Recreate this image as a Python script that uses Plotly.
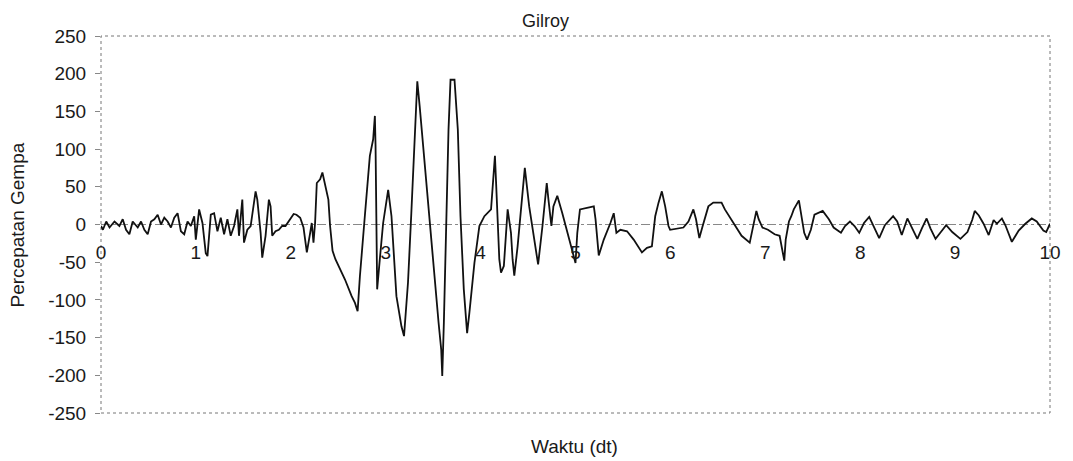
import plotly.graph_objects as go

# Time (s) and ground acceleration
waktu = [0.0, 0.02, 0.055, 0.09, 0.142, 0.194, 0.229, 0.264, 0.299, 0.334,
         0.387, 0.422, 0.457, 0.492, 0.527, 0.562, 0.597, 0.632, 0.667, 0.702,
         0.737, 0.772, 0.807, 0.842, 0.877, 0.912, 0.947, 0.982, 0.999, 1.034,
         1.069, 1.104, 1.122, 1.157, 1.192, 1.227, 1.262, 1.297, 1.332, 1.367,
         1.402, 1.437, 1.454, 1.472, 1.489, 1.507, 1.542, 1.577, 1.612, 1.629,
         1.647, 1.682, 1.699, 1.734, 1.769, 1.787, 1.804, 1.839, 1.874, 1.909,
         1.944, 1.976, 2.011, 2.03, 2.06, 2.099, 2.134, 2.169, 2.204, 2.221,
         2.239, 2.256, 2.274, 2.309, 2.333, 2.361, 2.396, 2.414, 2.44, 2.47,
         2.571, 2.641, 2.676, 2.704, 2.728, 2.78, 2.833, 2.868, 2.886, 2.893,
         2.91, 2.938, 2.973, 3.026, 3.061, 3.113, 3.166, 3.193, 3.235, 3.27,
         3.305, 3.333, 3.358, 3.41, 3.463, 3.515, 3.557, 3.585, 3.596, 3.613,
         3.637, 3.662, 3.683, 3.725, 3.76, 3.788, 3.823, 3.858, 3.882, 3.935,
         3.987, 4.04, 4.11, 4.151, 4.165, 4.197, 4.215, 4.245, 4.285, 4.32,
         4.337, 4.355, 4.39, 4.431, 4.466, 4.512, 4.564, 4.606, 4.652, 4.697,
         4.715, 4.746, 4.767, 4.808, 4.861, 4.914, 4.966, 5.0, 5.019, 5.047,
         5.193, 5.211, 5.245, 5.298, 5.368, 5.403, 5.431, 5.473, 5.543, 5.613,
         5.7, 5.753, 5.805, 5.84, 5.875, 5.91, 5.945, 5.98, 5.997, 6.137,
         6.19, 6.242, 6.27, 6.305, 6.34, 6.4, 6.452, 6.539, 6.574, 6.679,
         6.75, 6.836, 6.906, 6.93, 6.97, 7.028, 7.098, 7.151, 7.179, 7.2,
         7.215, 7.249, 7.274, 7.3, 7.354, 7.38, 7.41, 7.44, 7.48, 7.518,
         7.605, 7.67, 7.72, 7.797, 7.84, 7.892, 7.94, 7.99, 8.04, 8.095,
         8.15, 8.2, 8.26, 8.347, 8.39, 8.438, 8.497, 8.55, 8.602, 8.65,
         8.7, 8.74, 8.794, 8.85, 8.906, 8.97, 9.056, 9.13, 9.18, 9.207,
         9.25, 9.3, 9.354, 9.406, 9.44, 9.493, 9.53, 9.598, 9.67, 9.74,
         9.808, 9.86, 9.93, 9.96, 10.0]

percepatan = [-2, -7, 4, -4, 4, -2, 7, -7, -13, 4,
              -4, 4, -7, -13, 4, 7, 13, 0, 9, 4,
              -4, 9, 15, -9, -13, 4, -2, 11, -20, 20,
              2, -38, -42, 13, 15, -9, 9, -13, 7, -15,
              -2, 20, -15, 11, 33, -24, -7, -2, 29, 44,
              33, -11, -44, -15, 33, 24, -15, -9, -7, -2,
              -2, 4, 9, 14, 13, 9, -4, -37, -11, 2,
              -24, 2, 55, 60, 69, 53, 33, -2, -35, -46,
              -73, -95, -104, -115, -69, 11, 91, 113, 144, 104,
              -86, -46, 2, 46, 11, -95, -135, -148, -77, 15,
              126, 190, 157, 82, -2, -77, -130, -166, -201, -130,
              -7, 126, 192, 192, 126, 11, -86, -144, -117, -51,
              -2, 11, 20, 91, 50, -46, -64, -55, 20, -11,
              -46, -68, -29, 33, 75, 24, -20, -53, -2, 55,
              33, -2, 24, 38, 15, -11, -33, -51, -11, 20,
              24, 7, -41, -20, 2, 15, -11, -7, -9, -20,
              -37, -31, -29, 11, 29, 44, 24, -2, -7, -4,
              4, 20, 7, -18, -2, 24, 29, 29, 20, 0,
              -15, -24, 18, 7, -4, -7, -13, -15, -33, -48,
              -20, 4, 11, 20, 32, 11, -11, -20, -7, 13,
              18, 7, -4, -11, -2, 4, -2, -11, 2, 10,
              -4, -18, -1, 11, 4, -14, 8, -5, -19, -5,
              8, -5, -19, -10, -1, -10, -19, -10, 6, 18,
              12, 1, -14, 6, 1, 8, -1, -23, -8, 1,
              8, 4, -8, -10, 1]

assert len(waktu) == len(percepatan)

x_ticks = list(range(0, 11))
y_ticks = list(range(-250, 251, 50))
y_ticktext = [str(v) for v in y_ticks]

FONT = "Liberation Sans, Arial, sans-serif"

fig = go.Figure()
fig.add_trace(go.Scatter(x=waktu, y=percepatan, mode="lines",
                         line=dict(color="#111111", width=1.8),
                         showlegend=False, hoverinfo="skip"))

fig.update_layout(
    width=1073, height=461,
    margin=dict(l=101, r=18, t=36, b=48),
    paper_bgcolor="white", plot_bgcolor="white",
    font=dict(family=FONT, size=19, color="#1a1a1a"),
    xaxis=dict(range=[0, 10], tickvals=x_ticks, ticktext=[str(v) for v in x_ticks],
               showgrid=False, zeroline=False, showline=False, ticks="",
               anchor="free", position=0.5, ticklabelstandoff=14,
               tickfont=dict(size=19)),
    yaxis=dict(range=[-250, 250], tickvals=y_ticks, ticktext=y_ticktext,
               showgrid=False, zeroline=False, showline=False,
               ticks="outside", ticklen=5, tickcolor="#888888", tickwidth=1,
               ticklabelstandoff=5, tickfont=dict(size=19)),
    shapes=[
        dict(type="rect", xref="paper", yref="paper", x0=0, x1=1, y0=0, y1=1,
             line=dict(color="#777777", width=1, dash="dot"), layer="below"),
        dict(type="line", xref="paper", yref="y", x0=0, x1=1, y0=0, y1=0,
             line=dict(color="#888888", width=1, dash="dashdot"), layer="below"),
    ],
    annotations=[
        dict(text="Gilroy", xref="paper", yref="paper", x=0.468, y=1.0385,
             xanchor="center", yanchor="middle", showarrow=False,
             font=dict(size=18)),
        dict(text="Waktu (dt)", xref="paper", yref="paper", x=0.4987, y=-0.09,
             xanchor="center", yanchor="middle", showarrow=False,
             font=dict(size=19)),
        dict(text="Percepatan Gempa", xref="paper", yref="paper", x=-0.0875, y=0.5,
             xanchor="center", yanchor="middle", showarrow=False, textangle=-90,
             font=dict(size=19)),
    ],
)

fig.write_html("out.html")
